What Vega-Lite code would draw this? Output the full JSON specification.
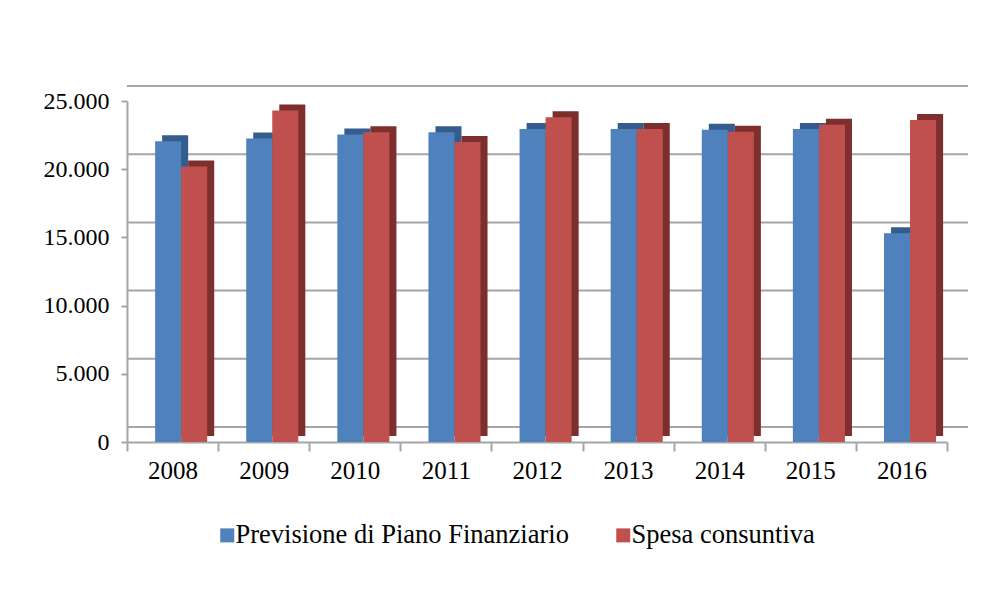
{
  "$schema": "https://vega.github.io/schema/vega-lite/v6.json",
  "width": 820,
  "height": 341,
  "autosize": "none",
  "padding": {"left": 127, "top": 101, "right": 53, "bottom": 147},
  "background": "white",
  "config": {"view": {"stroke": null}, "font": "Times New Roman, Liberation Serif, serif"},
  "datasets": {
    "spesa": [
      {"anno": "2008", "serie": "Previsione di Piano Finanziario", "valore": 22050},
      {"anno": "2008", "serie": "Spesa consuntiva", "valore": 20200},
      {"anno": "2009", "serie": "Previsione di Piano Finanziario", "valore": 22250},
      {"anno": "2009", "serie": "Spesa consuntiva", "valore": 24300},
      {"anno": "2010", "serie": "Previsione di Piano Finanziario", "valore": 22550},
      {"anno": "2010", "serie": "Spesa consuntiva", "valore": 22700},
      {"anno": "2011", "serie": "Previsione di Piano Finanziario", "valore": 22700},
      {"anno": "2011", "serie": "Spesa consuntiva", "valore": 22000},
      {"anno": "2012", "serie": "Previsione di Piano Finanziario", "valore": 22950},
      {"anno": "2012", "serie": "Spesa consuntiva", "valore": 23800},
      {"anno": "2013", "serie": "Previsione di Piano Finanziario", "valore": 22950},
      {"anno": "2013", "serie": "Spesa consuntiva", "valore": 22950},
      {"anno": "2014", "serie": "Previsione di Piano Finanziario", "valore": 22900},
      {"anno": "2014", "serie": "Spesa consuntiva", "valore": 22750},
      {"anno": "2015", "serie": "Previsione di Piano Finanziario", "valore": 22950},
      {"anno": "2015", "serie": "Spesa consuntiva", "valore": 23250},
      {"anno": "2016", "serie": "Previsione di Piano Finanziario", "valore": 15300},
      {"anno": "2016", "serie": "Spesa consuntiva", "valore": 23600}
    ],
    "griglia": [
      {"g": 0}, {"g": 5000}, {"g": 10000}, {"g": 15000}, {"g": 20000}, {"g": 25000}
    ]
  },
  "layer": [
    {
      "data": {"name": "griglia"},
      "mark": {"type": "rule", "color": "#a6a6a6", "strokeWidth": 2, "xOffset": 21, "x2Offset": 26, "yOffset": -15},
      "encoding": {
        "y": {"field": "g", "type": "quantitative", "scale": {"domain": [0, 25000], "nice": false},
          "axis": {"title": null, "values": [0, 5000, 10000, 15000, 20000, 25000], "grid": false, "labelExpr": "replace(format(datum.value, ','), ',', '.')", "tickSize": 6, "tickColor": "#a6a6a6", "tickWidth": 2, "domainColor": "#a6a6a6", "domainWidth": 2, "labelFontSize": 24, "labelPadding": 12, "labelColor": "black", "labelFont": "Times New Roman, Liberation Serif, serif"}}
      }
    },
    {
      "data": {"name": "spesa"},
      "mark": {"type": "bar", "yOffset": -6},
      "encoding": {
        "x": {"field": "anno", "type": "nominal", "scale": {"paddingInner": 0, "paddingOuter": 0},
          "axis": {"title": null, "labelAngle": 0, "tickBand": "extent", "tickSize": 9, "tickColor": "#a6a6a6", "tickWidth": 2, "domainColor": "#a6a6a6", "domainWidth": 2, "labelFontSize": 25, "labelPadding": 7, "labelColor": "black", "labelFont": "Times New Roman, Liberation Serif, serif"}},
        "xOffset": {"field": "serie", "type": "nominal", "sort": ["Previsione di Piano Finanziario", "Spesa consuntiva"], "scale": {"paddingInner": 0, "paddingOuter": 0.75, "align": 0.9}},
        "y": {"field": "valore", "type": "quantitative", "scale": {"domain": [0, 25000], "nice": false},
          "axis": {"title": null, "values": [0, 5000, 10000, 15000, 20000, 25000], "grid": false, "labelExpr": "replace(format(datum.value, ','), ',', '.')", "tickSize": 6, "tickColor": "#a6a6a6", "tickWidth": 2, "domainColor": "#a6a6a6", "domainWidth": 2, "labelFontSize": 24, "labelPadding": 12, "labelColor": "black", "labelFont": "Times New Roman, Liberation Serif, serif"}},
        "color": {"field": "serie", "type": "nominal", "scale": {"domain": ["Previsione di Piano Finanziario", "Spesa consuntiva"], "range": ["#345d8e", "#7d2f2e"]}, "legend": null}
      }
    },
    {
      "data": {"name": "spesa"},
      "mark": {"type": "bar"},
      "encoding": {
        "x": {"field": "anno", "type": "nominal", "scale": {"paddingInner": 0, "paddingOuter": 0},
          "axis": {"title": null, "labelAngle": 0, "tickBand": "extent", "tickSize": 9, "tickColor": "#a6a6a6", "tickWidth": 2, "domainColor": "#a6a6a6", "domainWidth": 2, "labelFontSize": 25, "labelPadding": 7, "labelColor": "black", "labelFont": "Times New Roman, Liberation Serif, serif"}},
        "xOffset": {"field": "serie", "type": "nominal", "sort": ["Previsione di Piano Finanziario", "Spesa consuntiva"], "scale": {"paddingInner": 0, "paddingOuter": 0.75, "align": 0.72}},
        "y": {"field": "valore", "type": "quantitative", "scale": {"domain": [0, 25000], "nice": false},
          "axis": {"title": null, "values": [0, 5000, 10000, 15000, 20000, 25000], "grid": false, "labelExpr": "replace(format(datum.value, ','), ',', '.')", "tickSize": 6, "tickColor": "#a6a6a6", "tickWidth": 2, "domainColor": "#a6a6a6", "domainWidth": 2, "labelFontSize": 24, "labelPadding": 12, "labelColor": "black", "labelFont": "Times New Roman, Liberation Serif, serif"}},
        "color": {"field": "serie", "type": "nominal", "scale": {"domain": ["Previsione di Piano Finanziario", "Spesa consuntiva"], "range": ["#4f81bd", "#c0504d"]},
          "legend": {"orient": "none", "legendX": 87, "legendY": 421, "direction": "horizontal", "title": null, "symbolType": "square", "symbolSize": 196, "symbolStrokeWidth": 0, "labelFontSize": 26.5, "labelFont": "Times New Roman, Liberation Serif, serif", "labelColor": "black", "labelLimit": 600, "columnPadding": 41, "labelOffset": -5}}
      }
    }
  ],
  "resolve": {"scale": {"color": "independent", "xOffset": "independent"}}
}
